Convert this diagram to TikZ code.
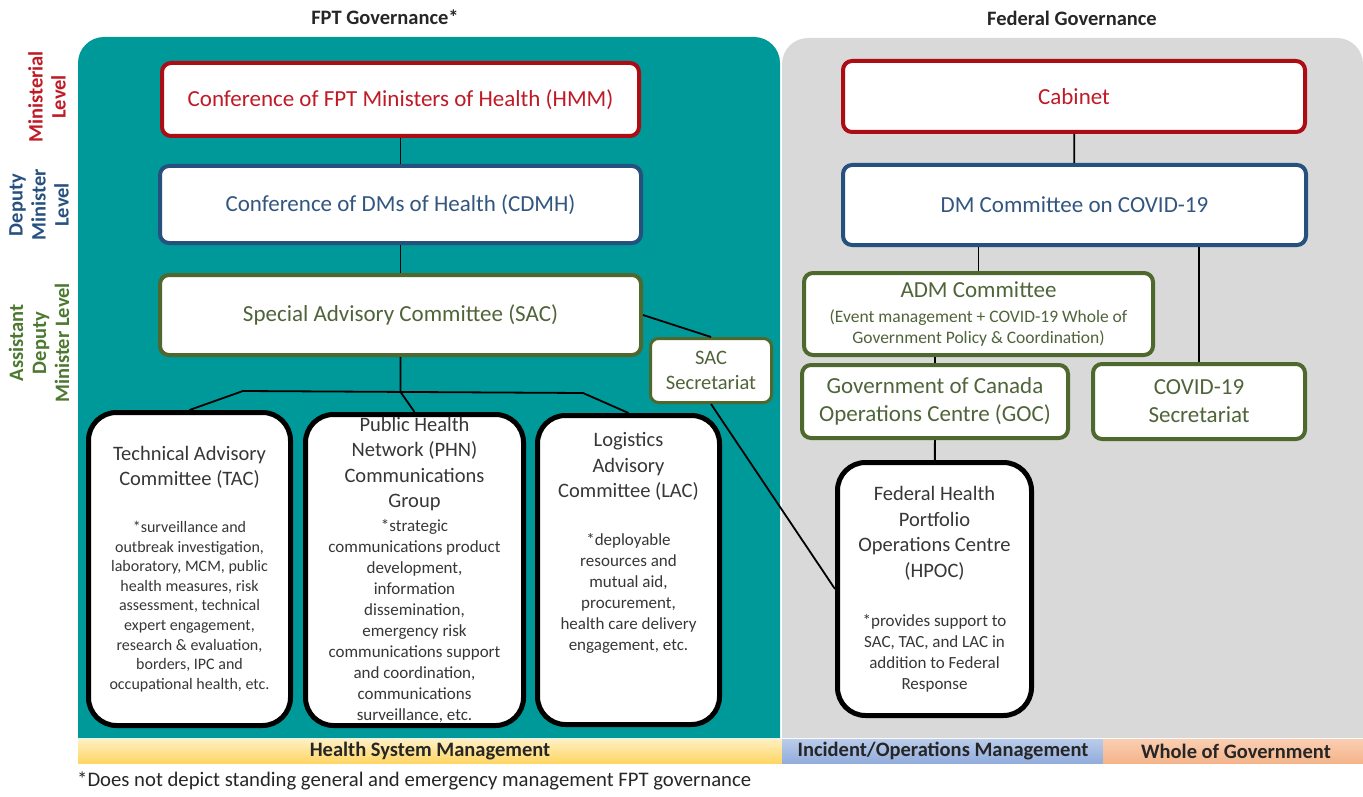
\documentclass[tikz,border=0pt]{standalone}
\usepackage{fontspec}
\setmainfont{Carlito}
\usepackage{tikz}
\usetikzlibrary{positioning}

\definecolor{fptteal}{RGB}{0,153,153}
\definecolor{fedgrey}{RGB}{217,217,217}
\definecolor{minred}{RGB}{172,12,20}
\definecolor{mintext}{RGB}{192,26,38}
\definecolor{dmblue}{RGB}{38,80,126}
\definecolor{dmtext}{RGB}{50,86,128}
\definecolor{admgreen}{RGB}{78,104,46}
\definecolor{admtext}{RGB}{80,100,58}
\definecolor{lvlgreen}{RGB}{76,120,48}
\definecolor{boxtext}{RGB}{55,55,55}
\definecolor{hsmtop}{RGB}{255,240,196}
\definecolor{hsmbot}{RGB}{255,214,100}
\definecolor{iomtop}{RGB}{186,204,234}
\definecolor{iombot}{RGB}{146,172,220}
\definecolor{wogtop}{RGB}{250,206,178}
\definecolor{wogbot}{RGB}{244,180,138}

% type sizes (1pt = one pixel of the chart)
\newcommand{\govfont}{\fontsize{23}{28}\selectfont}
\newcommand{\boxtitlefont}{\fontsize{20.5}{25.5}\selectfont}
\newcommand{\boxnotefont}{\fontsize{17}{21}\selectfont}
\newcommand{\tacnotefont}{\fontsize{16}{19.6}\selectfont}
\newcommand{\admnotefont}{\fontsize{17.5}{20.5}\selectfont}
\newcommand{\bannerfont}{\bfseries\fontsize{20.5}{23}\selectfont}

\begin{document}
\begin{tikzpicture}[x=1pt, y=-1pt,
    govbox/.style={draw, line width=4pt, fill=white, rounded corners=9pt,
      inner sep=0pt, font=\govfont},
    minbox/.style={govbox, draw=minred, text=mintext},
    dmbox/.style={govbox, draw=dmblue, text=dmtext},
    admbox/.style={govbox, draw=admgreen, text=admtext, align=flush center},
    groupbox/.style={draw=black, line width=5pt, fill=white, rounded corners=28pt,
      text=boxtext, inner sep=0pt, align=flush center},
    link/.style={draw=black, line width=1.8pt},
    level/.style={rotate=90, align=center, font=\bannerfont},
    banner/.style={font=\bannerfont, text=black!85},
  ]
  \useasboundingbox (0,0) rectangle (1363,797);

  % panels
  \fill[fptteal] (78,738) -- (78,63) arc[start angle=180, end angle=270, radius=26]
    -- (754,37) arc[start angle=270, end angle=360, radius=26] -- (780,738) -- cycle;
  \fill[fedgrey] (782,738) -- (782,64) arc[start angle=180, end angle=270, radius=26]
    -- (1337,38) arc[start angle=270, end angle=360, radius=26] -- (1363,738) -- cycle;

  \node[banner] (fpthead) at (385,17) {FPT Governance*};
  \node[banner] (fedhead) at (1072,18) {Federal Governance};

  % levels
  \node[level, text=mintext] (lvlmin) at (47,97) {Ministerial\\Level};
  \node[level, text=dmblue] (lvldm) at (39,205) {Deputy\\Minister\\Level};
  \node[level, text=lvlgreen] (lvladm) at (39,343) {Assistant\\Deputy\\Minister Level};

  % FPT side
  \node[minbox, minimum width=477pt, minimum height=73pt] (hmm) at (400.5,99.5)
    {Conference of FPT Ministers of Health (HMM)};
  \node[dmbox, minimum width=481pt, minimum height=77pt] (cdmh) at (400.5,204.5)
    {Conference of DMs of Health (CDMH)};
  \node[admbox, minimum width=481pt, minimum height=80pt] (sac) at (400.5,315)
    {Special Advisory Committee (SAC)};
  \node[admbox, line width=3pt, rounded corners=8pt, minimum width=121pt,
    minimum height=64pt, font=\boxtitlefont] (sacsec) at (711,370.5) {SAC\\Secretariat};

  \node[groupbox, minimum width=202pt, minimum height=313pt, text width=196pt] (tac) at (189.5,569)
    {\boxtitlefont Technical Advisory\\ Committee (TAC)\par
     \vspace{27pt}\tacnotefont *surveillance and\\ outbreak investigation,\\
     laboratory, MCM, public\\ health measures, risk\\ assessment, technical\\
     expert engagement,\\ research \& evaluation,\\ borders, IPC and\\
     occupational health, etc.\par};
  \node[groupbox, minimum width=218pt, minimum height=311pt, text width=212pt] (phn) at (414.5,570)
    {\boxtitlefont Public Health\\ Network (PHN)\\ Communications\\ Group\par
     \vspace{3pt}\boxnotefont *strategic\\ communications product\\ development,\\
     information\\ dissemination,\\ emergency risk\\ communications support\\
     and coordination,\\ communications\\ surveillance, etc.\par};
  \node[groupbox, minimum width=182pt, minimum height=309pt, text width=176pt] (lac) at (628.5,570)
    {\boxtitlefont Logistics\\ Advisory\\ Committee (LAC)\par
     \vspace{27pt}\boxnotefont *deployable\\ resources and\\ mutual aid,\\
     procurement,\\ health care delivery\\ engagement, etc.\par\vspace{54pt}};

  % federal side
  \node[minbox, minimum width=462pt, minimum height=71pt] (cabinet) at (1074,96.5) {Cabinet};
  \node[dmbox, minimum width=463pt, minimum height=80pt] (dmcovid) at (1074.5,205)
    {DM Committee on COVID-19};
  \node[admbox, minimum width=349pt, minimum height=82pt, text width=340pt] (adm) at (978.5,314)
    {ADM Committee\par\vspace{4.5pt}\admnotefont (Event management + COVID-19 Whole of\\
     Government Policy \& Coordination)\par};
  \node[admbox, minimum width=266pt, minimum height=73pt] (goc) at (935,401.5)
    {Government of Canada\\ Operations Centre (GOC)};
  \node[admbox, minimum width=212pt, minimum height=75pt] (covsec) at (1199,401.5)
    {COVID-19\\ Secretariat};
  \node[groupbox, minimum width=194pt, minimum height=253pt, text width=188pt] (hpoc) at (934.5,589)
    {\boxtitlefont Federal Health\\ Portfolio\\ Operations Centre\\ (HPOC)\par
     \vspace{28pt}\boxnotefont *provides support to\\ SAC, TAC, and LAC in\\
     addition to Federal\\ Response\par};

  % connectors
  \coordinate (fork) at (400.5,392);
  \coordinate (forkl) at (243,391);
  \coordinate (forkr) at (583,393);
  \draw[link] (hmm) -- (cdmh);
  \draw[link] (cdmh) -- (sac);
  \draw[link] (sac) -- (fork) -- (phn.north);
  \draw[link] (tac.north) -- (forkl) -- (forkr) -- (lac.north);
  \draw[link] (sac.east) -- (sacsec.north);
  \draw[link] (sacsec.south) -- (hpoc.west);
  \draw[link] (cabinet) -- (dmcovid);
  \draw[link] (adm.north) -- (adm.north |- dmcovid.south);
  \draw[link] (covsec.north) -- (covsec.north |- dmcovid.south);
  \draw[link] (goc.north) -- (goc.north |- adm.south);
  \draw[link] (goc) -- (hpoc);

  % management bands
  \shade[top color=hsmtop, bottom color=hsmbot] (78,739) rectangle (782,763);
  \shade[top color=iomtop, bottom color=iombot] (782,739) rectangle (1103,763);
  \shade[top color=wogtop, bottom color=wogbot] (1103,739) rectangle (1363,763);
  \node[banner] (hsm) at (430,751) {Health System Management};
  \node[banner] (iom) at (943,751) {Incident/Operations Management};
  \node[banner] (wog) at (1236,751) {Whole of Government};

  \node[anchor=west, inner sep=0pt, font=\fontsize{20.7}{24}\selectfont, text=black!85] (note)
    at (77,781) {*Does not depict standing general and emergency management FPT governance};
\end{tikzpicture}
\end{document}
